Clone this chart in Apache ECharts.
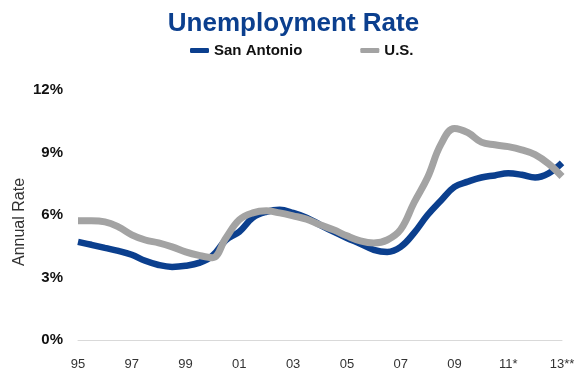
<!DOCTYPE html>
<html>
<head>
<meta charset="utf-8">
<script src="https://cdn.jsdelivr.net/npm/echarts@6/dist/echarts.min.js"></script>
<style>
  html, body { margin: 0; padding: 0; background: #fff; }
  #chart { width: 587px; height: 375px; }
</style>
</head>
<body>
<div id="chart"></div>
<script>
// Years since 1995, sampled every half year
const yearOffsets = [0, 0.5, 1, 1.5, 2, 2.5, 3, 3.5, 4, 4.5, 5, 5.5, 6, 6.5, 7, 7.5, 8, 8.5, 9,
  9.5, 10, 10.5, 11, 11.5, 12, 12.5, 13, 13.5, 14, 14.5, 15, 15.5, 16, 16.5, 17, 17.5, 18];

// Unemployment rate, %
const sanAntonio = [4.71, 4.57, 4.42, 4.28, 4.09, 3.8, 3.6, 3.51, 3.56, 3.7, 4.04, 4.8, 5.2,
  5.87, 6.15, 6.25, 6.1, 5.87, 5.53, 5.2, 4.9, 4.62, 4.33, 4.23, 4.47, 5.14, 6.0, 6.7, 7.35,
  7.6, 7.8, 7.9, 8.0, 7.93, 7.8, 8.0, 8.5];
const us = [5.72, 5.72, 5.67, 5.43, 5.05, 4.8, 4.66, 4.47, 4.23, 4.06, 3.95, 4.9, 5.77,
  6.1, 6.2, 6.1, 5.96, 5.8, 5.53, 5.29, 5.0, 4.76, 4.66, 4.8, 5.3, 6.6, 7.8, 9.4, 10.15,
  9.95, 9.5, 9.37, 9.28, 9.13, 8.9, 8.46, 7.85];

// Labels for every second year on the x axis
const xTickLabels = ['95', '97', '99', '01', '03', '05', '07', '09', '11*', '13**'];

const blue = '#0b3f8e';
const grey = '#a3a3a3';
const font = '"Liberation Sans", Arial, Helvetica, sans-serif';

const pair = (xs, ys) => xs.map((x, i) => [x, ys[i]]);

const chart = echarts.init(document.getElementById('chart'));
chart.setOption({
  animation: false,
  textStyle: { fontFamily: font },
  title: {
    text: 'Unemployment Rate',
    left: 'center',
    top: 6,
    textStyle: { color: blue, fontSize: 26, fontWeight: 'bold', fontFamily: font }
  },
  legend: {
    left: 185,
    top: 38,
    itemWidth: 19,
    itemHeight: 5,
    itemGap: 58,
    icon: 'roundRect',
    textStyle: { color: '#111', fontSize: 15, fontWeight: 'bold', fontFamily: font },
    data: ['San Antonio', 'U.S.']
  },
  // Vertical axis title
  graphic: [{
    type: 'text',
    x: 20,
    y: 222,
    rotation: Math.PI / 2,
    style: {
      text: 'Annual Rate',
      fill: '#333',
      fontSize: 16,
      fontFamily: font,
      textAlign: 'center',
      textVerticalAlign: 'middle'
    }
  }],
  grid: { left: 78, right: 25, top: 90, bottom: 35 },
  xAxis: {
    type: 'value',
    min: 0,
    max: 18,
    interval: 2,
    axisLine: { show: true, lineStyle: { color: '#d9d9d9', width: 1 } },
    axisTick: { show: false },
    splitLine: { show: false },
    axisLabel: {
      margin: 18,
      color: '#333',
      fontSize: 13,
      fontFamily: font,
      formatter: v => xTickLabels[Math.round(v / 2)]
    }
  },
  yAxis: {
    type: 'value',
    min: 0,
    max: 12,
    interval: 3,
    axisLine: { show: false },
    axisTick: { show: false },
    splitLine: { show: false },
    axisLabel: {
      margin: 15,
      color: '#111',
      fontSize: 15,
      fontWeight: 'bold',
      fontFamily: font,
      formatter: '{value}%'
    }
  },
  series: [
    {
      name: 'San Antonio',
      type: 'line',
      smooth: 0.4,
      showSymbol: false,
      color: blue,
      lineStyle: { color: blue, width: 6.5 },
      data: pair(yearOffsets, sanAntonio)
    },
    {
      name: 'U.S.',
      type: 'line',
      smooth: 0.4,
      showSymbol: false,
      color: grey,
      lineStyle: { color: grey, width: 7 },
      data: pair(yearOffsets, us)
    }
  ]
});
</script>
</body>
</html>
